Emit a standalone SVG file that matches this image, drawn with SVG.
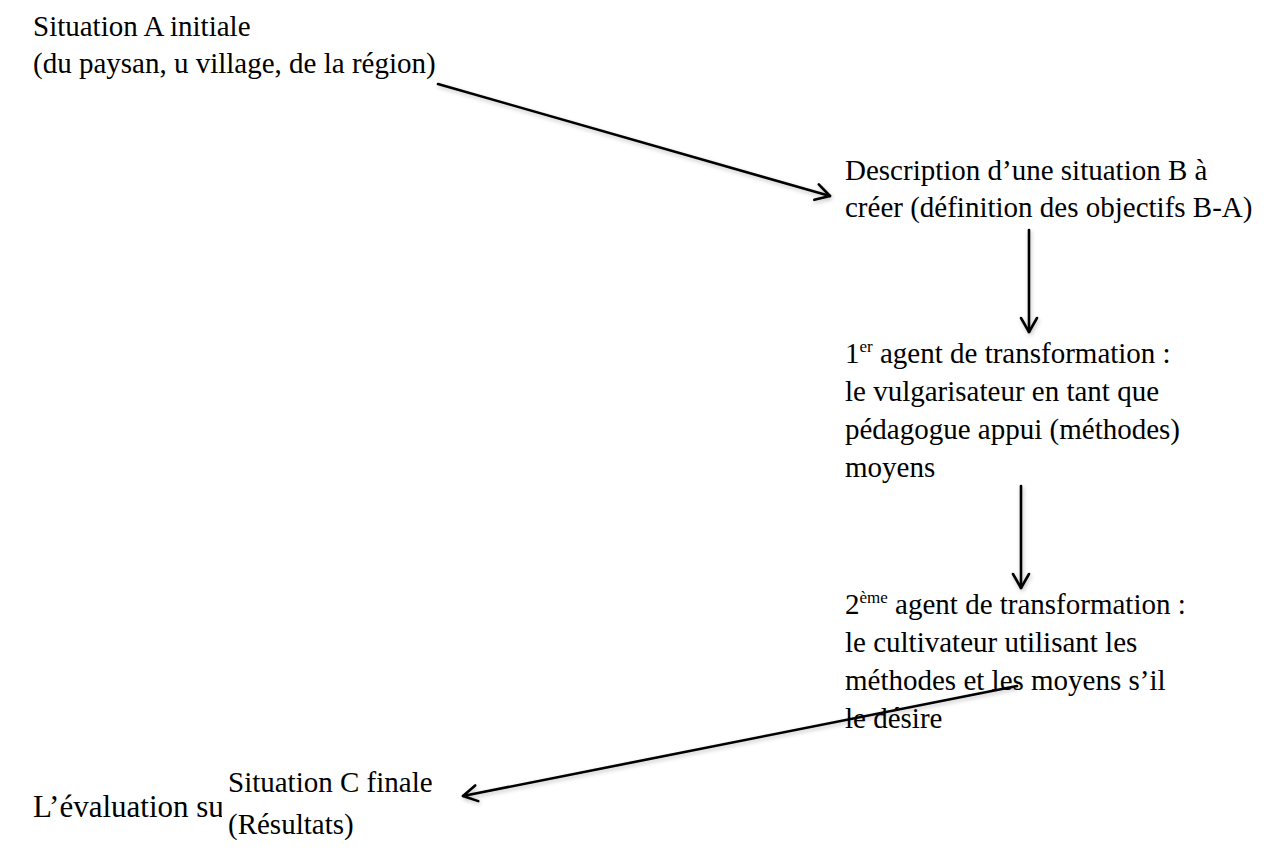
<svg xmlns="http://www.w3.org/2000/svg" width="1266" height="859" viewBox="0 0 1266 859">
  <style>
    text { font-family: 'Liberation Serif', Tinos, 'Times New Roman', Times, 'DejaVu Serif', serif; font-size: 29px; fill: #000; }
    .big { font-size: 31px; }
    .sup { font-size: 17px; }
    .conn { stroke: #000; stroke-width: 2.6; fill: none; stroke-linecap: round; stroke-linejoin: round; filter: url(#shadow); }
  </style>
  <defs>
    <filter id="shadow" filterUnits="userSpaceOnUse" x="0" y="0" width="1266" height="859">
      <feGaussianBlur in="SourceAlpha" stdDeviation="2"/>
      <feOffset dx="1" dy="2" result="b"/>
      <feComponentTransfer><feFuncA type="linear" slope="0.25"/></feComponentTransfer>
      <feMerge><feMergeNode/><feMergeNode in="SourceGraphic"/></feMerge>
    </filter>
    <marker id="head" viewBox="-16 -10 18 20" refX="0" refY="0" markerWidth="18" markerHeight="20" markerUnits="userSpaceOnUse" orient="auto">
      <path d="M-14,-8 L0,0 L-14,8" fill="none" stroke="#000" stroke-width="2.6" stroke-linecap="round" stroke-linejoin="round"/>
    </marker>
  </defs>
  <rect width="1266" height="859" fill="#fff"/>

  <!-- connectors -->
  <g id="connectors">
    <path class="conn" d="M438,84 L830,196" marker-end="url(#head)"/>
    <path class="conn" d="M1029,230 L1029,332" marker-end="url(#head)"/>
    <path class="conn" d="M1021,486 L1021,588" marker-end="url(#head)"/>
    <path class="conn" d="M1017,686 L463,796" marker-end="url(#head)"/>
  </g>

  <text id="evaluation" class="big" x="33" y="817">L’évaluation su</text>

  <g id="node-a">
    <text x="33" y="36">Situation A initiale</text>
    <text x="33" y="73">(du paysan, u village, de la région)</text>
  </g>

  <g id="node-b">
    <text x="845" y="180">Description d’une situation B à</text>
    <text x="845" y="217">créer (définition des objectifs B-A)</text>
  </g>

  <g id="node-agent1">
    <text x="845" y="363">1<tspan class="sup" dy="-11">er</tspan><tspan dy="11"> agent de transformation :</tspan></text>
    <text x="845" y="401">le vulgarisateur en tant que</text>
    <text x="845" y="439">pédagogue appui (méthodes)</text>
    <text x="845" y="477">moyens</text>
  </g>

  <g id="node-agent2">
    <text x="845" y="614">2<tspan class="sup" dy="-11">ème</tspan><tspan dy="11"> agent de transformation :</tspan></text>
    <text x="845" y="652">le cultivateur utilisant les</text>
    <text x="845" y="690">méthodes et les moyens s’il</text>
    <text x="845" y="728">le désire</text>
  </g>

  <g id="node-c">
    <rect x="222" y="762" width="230" height="97" fill="#fff"/>
    <text x="228" y="792">Situation C finale</text>
    <text x="228" y="834">(Résultats)</text>
  </g>
</svg>
